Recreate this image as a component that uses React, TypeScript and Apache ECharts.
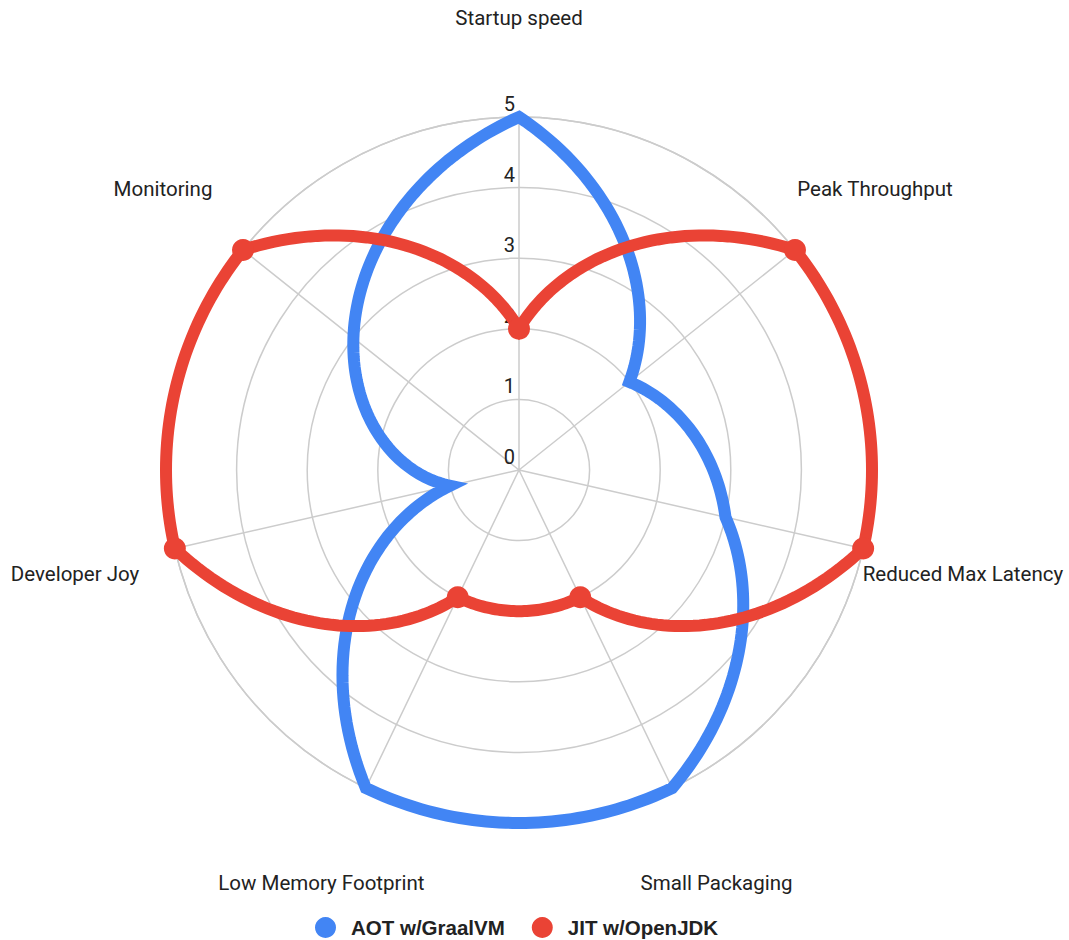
import React, { useEffect, useRef } from "react";
import * as echarts from "echarts";

const indicators = [
  "Startup speed",
  "Peak Throughput",
  "Reduced Max Latency",
  "Small Packaging",
  "Low Memory Footprint",
  "Developer Joy",
  "Monitoring",
];
const aotValues = [5, 2, 3, 5, 5, 1, 3];
const jitValues = [2, 5, 5, 2, 2, 5, 5];
const seriesNames = ["AOT w/GraalVM", "JIT w/OpenJDK"];
const radiusMin = 0;
const radiusMax = 5;

const BLUE = "#4285F4";
const RED = "#EA4335";
const GRID = "#cccccc";
const TEXT = "#222222";
const LABEL_RADIUS = 6.45;

function polarLine(values: number[], color: string, name: string, z: number) {
  return {
    type: "custom",
    name,
    coordinateSystem: "polar",
    itemStyle: { color },
    z,
    data: values.map((v, i) => [v, i]),
    renderItem: (params: any, api: any) => {
      if (params.dataIndexInside !== 0) return null;
      const n = params.dataInsideLength;
      const pts: number[][] = [];
      const steps = 48;
      for (let i = 0; i < n; i++) {
        const r0 = api.value(0, i);
        const a0 = api.value(1, i);
        const r1 = api.value(0, (i + 1) % n);
        for (let k = 0; k < steps; k++) {
          const t = k / steps;
          pts.push(api.coord([r0 + (r1 - r0) * t, a0 + t]));
        }
      }
      return {
        type: "polygon",
        shape: { points: pts },
        style: {
          fill: "none",
          stroke: color,
          lineWidth: 12,
          lineJoin: "miter",
          miterLimit: 10,
        },
      };
    },
  };
}

export default function App() {
  const ref = useRef<HTMLDivElement>(null);
  useEffect(() => {
    if (!ref.current) return;
    const chart = echarts.init(ref.current, undefined, { renderer: "svg" });
    chart.setOption({
      animation: false,
      backgroundColor: "#ffffff",
      polar: { center: [519, 470], radius: 353 },
      angleAxis: {
        type: "value",
        min: 0,
        max: indicators.length,
        interval: 1,
        startAngle: 90,
        clockwise: true,
        axisLine: { show: true, lineStyle: { color: GRID, width: 1.5 } },
        axisTick: { show: false },
        axisLabel: { show: false },
        splitLine: { show: true, lineStyle: { color: GRID, width: 1.5 } },
      },
      radiusAxis: {
        type: "value",
        min: radiusMin,
        max: radiusMax,
        interval: 1,
        axisLine: { show: false },
        axisTick: { show: false },
        axisLabel: {
          show: true,
          color: TEXT,
          fontSize: 20,
          fontFamily: "Roboto",
          align: "right",
          verticalAlign: "bottom",
          margin: 4,
          padding: [0, 0, 3, 0],
          hideOverlap: false,
        },
        splitLine: { show: true, lineStyle: { color: GRID, width: 1.5 } },
      },
      legend: {
        data: seriesNames.map((n) => ({ name: n, icon: "circle" })),
        left: 310,
        top: 912,
        itemWidth: 41,
        itemHeight: 21,
        itemGap: 27,
        textStyle: {
          color: TEXT,
          fontSize: 20.5,
          fontWeight: "bold",
          fontFamily: "Arial, 'Liberation Sans', sans-serif",
        },
      },
      series: [
        polarLine(aotValues, BLUE, seriesNames[0], 5),
        polarLine(jitValues, RED, seriesNames[1], 6),
        {
          type: "scatter",
          name: seriesNames[1],
          coordinateSystem: "polar",
          symbol: "circle",
          symbolSize: 22,
          itemStyle: { color: RED, opacity: 1 },
          data: jitValues.map((v, i) => [v, i]),
          z: 7,
        },
        {
          type: "custom",
          name: "labels",
          coordinateSystem: "polar",
          silent: true,
          data: indicators.map((_, i) => [LABEL_RADIUS, i]),
          renderItem: (params: any, api: any) => {
            const p = api.coord([api.value(0), api.value(1)]);
            return {
              type: "text",
              x: p[0],
              y: p[1] + 3,
              style: {
                text: indicators[params.dataIndex],
                fill: TEXT,
                font: "20.5px Roboto",
                align: "center",
                verticalAlign: "middle",
              },
            };
          },
        },
      ],
    });
    return () => chart.dispose();
  }, []);
  return (
    <div
      ref={ref}
      style={{ position: "absolute", left: 0, top: 0, width: 1069, height: 940 }}
    />
  );
}
